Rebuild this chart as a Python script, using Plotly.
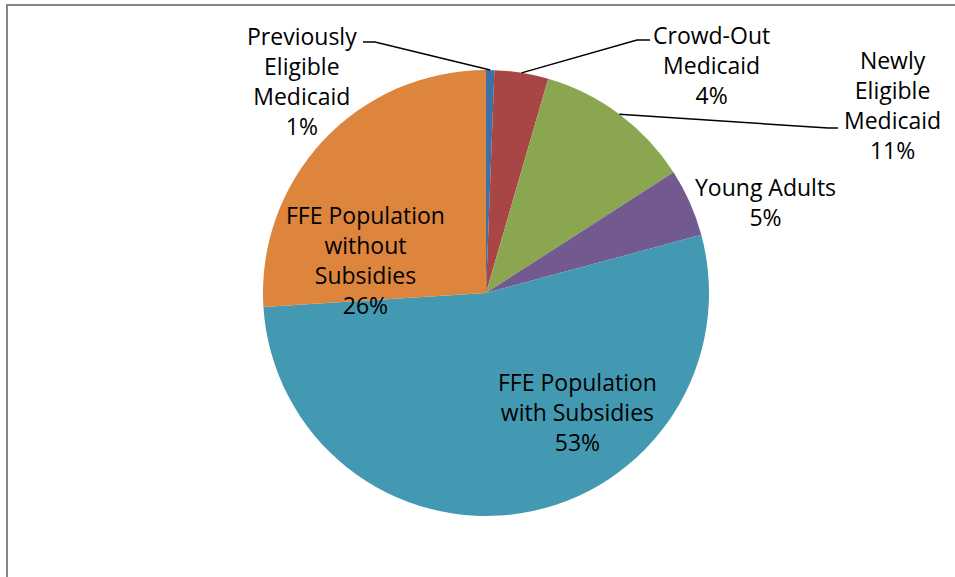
import math
import plotly.graph_objects as go

# ---- data ----
categories = [
    "Previously Eligible Medicaid",
    "Crowd-Out Medicaid",
    "Newly Eligible Medicaid",
    "Young Adults",
    "FFE Population with Subsidies",
    "FFE Population without Subsidies",
]
values = [0.6, 3.9, 11.4, 4.9, 53.2, 26.0]
pct_labels = ["1%", "4%", "11%", "5%", "53%", "26%"]
label_text = [
    "Previously<br>Eligible<br>Medicaid",
    "Crowd-Out<br>Medicaid",
    "Newly<br>Eligible<br>Medicaid",
    "Young Adults",
    "FFE Population<br>with Subsidies",
    "FFE Population<br>without<br>Subsidies",
]
colors = ["#3E70A8", "#A84646", "#8BA650", "#725A90", "#4399B1", "#DD843D"]

# ---- layout geometry (pixels) ----
W, H = 955, 577
CX, CY, R = 486, 293, 223
# label centres (pixels)
label_pos = [(302, 81), (711, 65), (892, 105), (765, 202), (577, 412), (365, 260)]
# leader elbows: (elbow point, end point) or None
leaders = [((375, 42), (363, 42)), ((637, 40), (650, 40)), ((828, 128), (838, 128)), None, None, None]

FONT = "Open Sans"
FS = 23


def px(x):
    return x / W


def py(y):
    return 1 - y / H


fig = go.Figure(
    go.Pie(
        labels=categories,
        values=values,
        sort=False,
        direction="clockwise",
        rotation=0,
        marker=dict(colors=colors, line=dict(width=0)),
        textinfo="none",
        hoverinfo="label+percent",
        showlegend=False,
        domain=dict(x=[px(CX - R), px(CX + R)], y=[py(CY + R), py(CY - R)]),
    )
)

annotations = []
shapes = []
total = sum(values)
cum = 0.0
for i, v in enumerate(values):
    mid = (cum + v / 2) / total * 2 * math.pi
    cum += v
    ax = CX + R * math.sin(mid)
    ay = CY - R * math.cos(mid)
    lx, ly = label_pos[i]
    annotations.append(
        dict(
            x=px(lx), y=py(ly), xref="paper", yref="paper",
            text=label_text[i] + "<br>" + pct_labels[i],
            showarrow=False, xanchor="center", yanchor="middle",
            font=dict(family=FONT, size=FS, color="#000000"),
            align="center",
        )
    )
    if leaders[i] is not None:
        (ex, ey), (tx, ty) = leaders[i]
        path = f"M {px(ax)},{py(ay)} L {px(ex)},{py(ey)} L {px(tx)},{py(ty)}"
        shapes.append(dict(type="path", xref="paper", yref="paper", path=path,
                           line=dict(color="#000000", width=1.5)))

# chart frame (left and top edges visible)
shapes.append(dict(type="line", xref="paper", yref="paper",
                   x0=px(7), x1=px(7), y0=-0.05, y1=py(5),
                   line=dict(color="#868686", width=2)))
shapes.append(dict(type="line", xref="paper", yref="paper",
                   x0=px(6), x1=1.05, y0=py(5), y1=py(5),
                   line=dict(color="#868686", width=2)))

fig.update_layout(
    width=W, height=H,
    margin=dict(l=0, r=0, t=0, b=0),
    paper_bgcolor="white", plot_bgcolor="white",
    annotations=annotations, shapes=shapes,
    font=dict(family=FONT),
)

fig.write_html(
    "out.html",
    config={"displayModeBar": False},
    post_script="document.body.style.margin='0';document.body.style.overflow='hidden';",
)
